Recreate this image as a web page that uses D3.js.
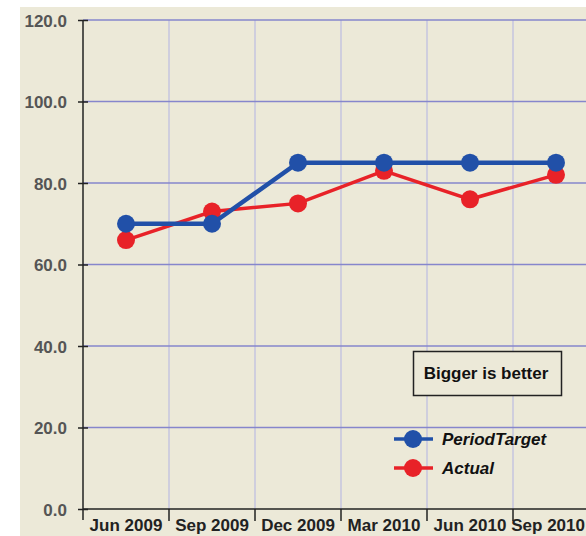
<!DOCTYPE html>
<html>
<head>
<meta charset="utf-8">
<script src="https://cdn.jsdelivr.net/npm/d3@7"></script>
<style>
  html, body { margin: 0; padding: 0; background: #fff; }
  svg { display: block; font-family: Arial, "Liberation Sans", sans-serif; }
</style>
</head>
<body>
<svg id="chart"></svg>
<script>
"use strict";

// DATA
var periods = ["Jun 2009", "Sep 2009", "Dec 2009", "Mar 2010", "Jun 2010", "Sep 2010"];
var periodTarget = [70, 70, 85, 85, 85, 85];
var actual = [66, 73, 75, 83, 76, 82];
var yTicks = [0, 20, 40, 60, 80, 100, 120];
var seriesNames = ["PeriodTarget", "Actual"];
var note = "Bigger is better";

drawChart();

function drawChart() {
  var width = 586,
      height = 536,
      fs = 17;

  var svg = d3.select("#chart").attr("width", width).attr("height", height);

  // beige panel
  svg.append("rect")
    .attr("x", 20).attr("y", 7)
    .attr("width", width - 20).attr("height", height - 7)
    .attr("fill", "#ECE9D8");

  var x = d3.scaleBand().domain(periods).range([83, 83 + 86 * periods.length]);
  var y = d3.scaleLinear().domain([0, 120]).range([509, 20]);

  // vertical grid at category boundaries
  var g = svg.append("g");
  g.selectAll(".vgrid")
    .data(periods.slice(1))
    .enter().append("line")
    .attr("x1", function (d) { return x(d); })
    .attr("x2", function (d) { return x(d); })
    .attr("y1", y(120)).attr("y2", y(0))
    .attr("stroke", "#BDBDE2").attr("stroke-width", 1.2);

  // horizontal grid
  g.selectAll(".hgrid")
    .data(yTicks.filter(function (d) { return d > 0; }))
    .enter().append("line")
    .attr("x1", 83).attr("x2", width)
    .attr("y1", function (d) { return y(d); })
    .attr("y2", function (d) { return y(d); })
    .attr("stroke", "#8686CC").attr("stroke-width", 1.5);

  // y axis
  var yAxis = d3.axisLeft(y).tickValues(yTicks).tickFormat(d3.format(".1f")).tickSize(5).tickPadding(11);
  var ya = svg.append("g").attr("transform", "translate(83,0)").call(yAxis);
  ya.select(".domain").attr("stroke", "#222").attr("stroke-width", 1.5).attr("d", "M0,20V520");
  ya.selectAll(".tick line").attr("stroke", "#222").attr("stroke-width", 1.5).attr("x2", -5).attr("x1", 5);
  ya.selectAll(".tick text")
    .attr("fill", "#555").attr("font-size", fs).attr("font-weight", "bold")
    .attr("font-family", "Arial, 'Liberation Sans', sans-serif")
    .attr("dy", "0.36em");

  // x axis
  var xa = svg.append("g").attr("transform", "translate(0,509)");
  xa.append("line").attr("x1", 83).attr("x2", width).attr("y1", 0).attr("y2", 0)
    .attr("stroke", "#222").attr("stroke-width", 1.5);
  xa.selectAll(".xtick")
    .data(periods.slice(1))
    .enter().append("line")
    .attr("x1", function (d) { return x(d); })
    .attr("x2", function (d) { return x(d); })
    .attr("y1", 0).attr("y2", 12)
    .attr("stroke", "#222").attr("stroke-width", 1.5);
  // last label would run past the right edge: pin it to the edge instead
  var last = periods[periods.length - 1];
  xa.selectAll(".xlabel")
    .data(periods)
    .enter().append("text")
    .attr("x", function (d) { return d === last ? width - 1 : x(d) + x.bandwidth() / 2; })
    .attr("y", 22)
    .attr("text-anchor", function (d) { return d === last ? "end" : "middle"; })
    .attr("font-size", fs).attr("font-weight", "bold").attr("fill", "#222")
    .text(function (d) { return d; });

  // lines
  var line = d3.line()
    .x(function (d, i) { return x(periods[i]) + x.bandwidth() / 2; })
    .y(function (d) { return y(d); });

  var series = [
    { name: seriesNames[0], values: periodTarget, color: "#2150A8", width: 4.5 },
    { name: seriesNames[1], values: actual, color: "#E82228", width: 3.5 }
  ];

  // actual drawn first so target sits on top
  [series[1], series[0]].forEach(function (s) {
    svg.append("path").datum(s.values)
      .attr("d", line).attr("fill", "none")
      .attr("stroke", s.color).attr("stroke-width", s.width);
    svg.selectAll(null).data(s.values).enter().append("circle")
      .attr("cx", function (d, i) { return x(periods[i]) + x.bandwidth() / 2; })
      .attr("cy", function (d) { return y(d); })
      .attr("r", 9).attr("fill", s.color);
  });

  // note box
  svg.append("rect")
    .attr("x", 413.5).attr("y", 351.5).attr("width", 148).attr("height", 44)
    .attr("fill", "#ECE9D8").attr("stroke", "#222").attr("stroke-width", 1.5);
  svg.append("text")
    .attr("x", 486).attr("y", 379).attr("text-anchor", "middle")
    .attr("font-size", fs).attr("font-weight", "bold").attr("fill", "#111")
    .text(note);

  // legend
  var leg = svg.append("g");
  series.forEach(function (s, i) {
    var ly = 439 + i * 29;
    leg.append("line").attr("x1", 394).attr("x2", 433).attr("y1", ly).attr("y2", ly)
      .attr("stroke", s.color).attr("stroke-width", 3.5);
    leg.append("circle").attr("cx", 413).attr("cy", ly).attr("r", 9).attr("fill", s.color);
    leg.append("text").attr("x", 442).attr("y", ly + 6)
      .attr("font-size", fs).attr("font-weight", "bold").attr("font-style", "italic")
      .attr("fill", "#111")
      .text(s.name);
  });
}
</script>
</body>
</html>
